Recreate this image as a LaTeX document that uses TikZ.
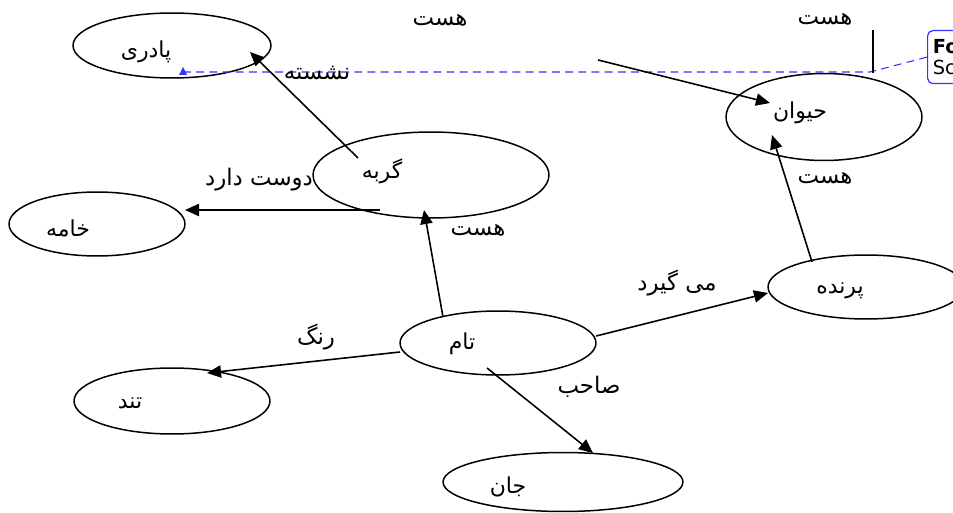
\documentclass[tikz,border=0pt]{standalone}
\usepackage{fontspec}
\usetikzlibrary{arrows.meta,calc,shapes.geometric}
\newfontfamily\fafont[Script=Arabic]{DejaVu Sans}
\setsansfont{DejaVu Sans}
\TeXXeTstate=1
\newcommand\fa[1]{{\fafont\beginR #1\endR}}
\begin{document}
\begin{tikzpicture}[x=0.02cm,y=-0.02cm,
  ell/.style={draw, ellipse, line width=0.85pt, inner sep=0pt, outer sep=0pt, fill=white},
  nodetext/.style={font=\fafont\fontsize{12.5}{14}\selectfont, inner sep=0pt},
  lbl/.style={font=\fafont\fontsize{13}{15}\selectfont, inner sep=0pt},
  conn/.style={line width=0.9pt, -{Triangle[length=8pt,width=7pt]}},
  comment/.style={blue!80!white, line width=0.6pt, dash pattern=on 4.5pt off 3pt},
]
\useasboundingbox (0,0) rectangle (953,513);

% ellipses
\node[ell, minimum width=3.96cm, minimum height=1.30cm] (padri) at (172,45.5) {};
\node[ell, minimum width=4.72cm, minimum height=1.72cm] (cat) at (431,175) {};
\node[ell, minimum width=3.52cm, minimum height=1.28cm] (khame) at (97,224) {};
\node[ell, minimum width=3.92cm, minimum height=1.28cm] (tam) at (498,343) {};
\node[ell, minimum width=3.92cm, minimum height=1.32cm] (tond) at (172,401) {};
\node[ell, minimum width=4.80cm, minimum height=1.18cm] (jan) at (563,482) {};
\node[ell, minimum width=3.92cm, minimum height=1.74cm] (heyvan) at (824,117) {};
\node[ell, minimum width=3.92cm, minimum height=1.28cm] (parande) at (866,287) {};

% node texts
\node[nodetext] (padriT) at (146,52) {\fa{پادری}};
\node[nodetext] (catT) at (382,171) {\fa{گربه}};
\node[nodetext] (khameT) at (68,228) {\fa{خامه}};
\node[nodetext] (tamT) at (462,344) {\fa{تام}};
\node[nodetext] (tondT) at (130,403) {\fa{تند}};
\node[nodetext] (janT) at (508,487) {\fa{جان}};
\node[nodetext] (heyvanT) at (800,113) {\fa{حیوان}};
\node[nodetext] (parandeT) at (840,291) {\fa{پرنده}};

% comment marker (dashed blue)
\coordinate (mark) at (183,72);
\coordinate (bend) at (870,72);
\node[draw=blue!80!white, line width=0.7pt, rounded corners=3pt, anchor=north west,
      minimum width=2.4cm, minimum height=1.06cm, text width=2.2cm, align=left,
      inner sep=3pt, font=\sffamily\fontsize{11}{12.5}\selectfont] (box) at (927,30)
      {\textbf{Fo}\\Sc};
\draw[comment] (mark) -- (bend) -- (box.west);
\fill[blue!80!white] ($(mark)+(-4,3)$) -- ($(mark)+(4,3)$) -- ($(mark)+(0,-5)$) -- cycle;
\coordinate (vtop) at (873,30);
\coordinate (vbot) at (873,73);
\draw[line width=1pt] (vtop) -- (vbot);

% connectors
\draw[conn] ($(cat)+(-73,-17)$) -- ($(padri)+(78,6.5)$);
\draw[conn] ($(cat)+(-51,35)$) -- ($(khame)+(88,-14)$);
\draw[conn] ($(tam)+(-55,-26)$) -- ($(cat)+(-7,35)$);
\draw[conn] ($(tam)+(-98,9)$) -- ($(tond)+(35,-28)$);
\draw[conn] ($(tam)+(-11,25)$) -- ($(jan)+(30,-29)$);
\draw[conn] ($(tam)+(98,-7)$) -- ($(parande)+(-98,6)$);
\draw[conn] ($(parande)+(-54,-25)$) -- ($(heyvan)+(-52,18)$);
\coordinate (free) at (598,60);
\draw[conn] (free) -- ($(heyvan)+(-54,-14)$);

% edge labels
\node[lbl] (l1) at (440,20) {\fa{هست}};
\node[lbl] (l2) at (825,19) {\fa{هست}};
\node[lbl] (l3) at (317,73) {\fa{نشسته}};
\node[lbl] (l4) at (259,180) {\fa{دوست دارد}};
\node[lbl] (l5) at (478,230) {\fa{هست}};
\node[lbl] (l6) at (825,178) {\fa{هست}};
\node[lbl] (l7) at (677,283) {\fa{می گیرد}};
\node[lbl] (l8) at (589,387) {\fa{صاحب}};
\node[lbl] (l9) at (316,337) {\fa{رنگ}};
\end{tikzpicture}
\end{document}
